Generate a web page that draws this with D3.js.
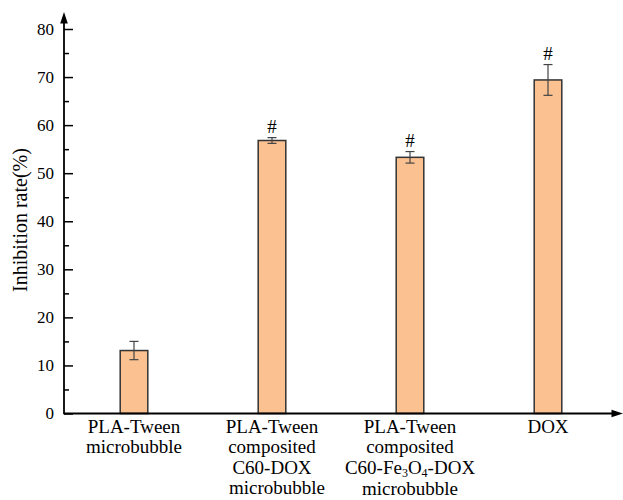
<!DOCTYPE html>
<html>
<head>
<meta charset="utf-8">
<script src="https://cdn.jsdelivr.net/npm/d3@7"></script>
<style>
  html, body { margin: 0; padding: 0; background: #fff; }
  svg { display: block; }
</style>
</head>
<body>
<svg id="chart" width="623" height="500"></svg>
<script>
// ---- data ----
const categories = ["PLA-Tween microbubble", "PLA-Tween composited C60-DOX microbubble", "PLA-Tween composited C60-Fe3O4-DOX microbubble", "DOX"];
const categoryLines = [
  ["PLA-Tween", "microbubble"],
  ["PLA-Tween", "composited", "C60-DOX", "microbubble"],
  ["PLA-Tween", "composited", "C60-Fe_3O_4-DOX", "microbubble"],
  ["DOX"]
];
const values = [13.1, 56.8, 53.3, 69.4];
const errors = [1.9, 0.6, 1.2, 3.2];
const marks = ["", "#", "#", "#"];
const yTicks = [0, 10, 20, 30, 40, 50, 60, 70, 80];
const yMinorTicks = [5, 15, 25, 35, 45, 55, 65, 75];
const yTitle = "Inhibition rate(%)";

const FONT = "'Liberation Serif', 'Times New Roman', Times, serif";

// ---- layout ----
const svg = d3.select("#chart");
const x0 = 64, y0 = 413.5;
const x = d3.scaleBand().domain(categories).range([65, 617]).paddingInner(0.8).paddingOuter(0.4);
const y = d3.scaleLinear().domain([0, 80]).range([y0, 29]);

// bars
svg.append("g").selectAll("rect").data(categories).join("rect")
  .attr("x", d => x(d))
  .attr("y", (d, i) => y(values[i]))
  .attr("width", x.bandwidth())
  .attr("height", (d, i) => y(0) - y(values[i]))
  .attr("fill", "#FBC190")
  .attr("stroke", "#333")
  .attr("stroke-width", 1.5);

// error bars
const eg = svg.append("g").attr("stroke", "#444").attr("stroke-width", 1.2).attr("fill", "none");
categories.forEach((c, i) => {
  const cx = x(c) + x.bandwidth() / 2;
  const top = y(values[i] + errors[i]), bot = y(values[i] - errors[i]);
  eg.append("line").attr("x1", cx).attr("x2", cx).attr("y1", top).attr("y2", bot);
  eg.append("line").attr("x1", cx - 4.5).attr("x2", cx + 4.5).attr("y1", top).attr("y2", top);
  eg.append("line").attr("x1", cx - 4.5).attr("x2", cx + 4.5).attr("y1", bot).attr("y2", bot);
});

// significance marks
svg.append("g").selectAll("text").data(categories).join("text")
  .attr("x", d => x(d) + x.bandwidth() / 2)
  .attr("y", (d, i) => y(values[i] + errors[i]) - 5)
  .attr("text-anchor", "middle")
  .style("font-family", FONT)
  .style("font-size", "19px")
  .text((d, i) => marks[i]);

// y axis (ticks inward)
const yAxis = d3.axisLeft(y).tickValues(yTicks).tickSize(-9).tickPadding(10).tickFormat(d3.format("d"));
const ya = svg.append("g").attr("transform", `translate(${x0},0)`).call(yAxis);
ya.select(".domain").remove();
ya.selectAll(".tick line").attr("stroke", "#000").attr("stroke-width", 1.5);
ya.selectAll(".tick text").style("font-size", "17px").style("font-family", FONT).attr("fill", "#000");
const yMinor = d3.axisLeft(y).tickValues(yMinorTicks).tickSize(-5).tickFormat("");
const ym = svg.append("g").attr("transform", `translate(${x0},0)`).call(yMinor);
ym.select(".domain").remove();
ym.selectAll(".tick line").attr("stroke", "#000").attr("stroke-width", 1.5);

// axis lines with arrows
svg.append("line").attr("x1", x0).attr("x2", x0).attr("y1", y0 + 0.75).attr("y2", 20).attr("stroke", "#000").attr("stroke-width", 1.8);
svg.append("path").attr("d", `M${x0},12 L${x0 - 3.8},23.5 L${x0 + 3.8},23.5 Z`).attr("fill", "#000");
svg.append("line").attr("x1", x0).attr("x2", 614).attr("y1", y0).attr("y2", y0).attr("stroke", "#000").attr("stroke-width", 1.8);
svg.append("path").attr("d", `M623,${y0} L611.5,${y0 - 3.8} L611.5,${y0 + 3.8} Z`).attr("fill", "#000");

// x labels
const xl = svg.append("g");
categories.forEach((c, i) => {
  const cx = x(c) + x.bandwidth() / 2;
  categoryLines[i].forEach((line, j) => {
    const t = xl.append("text")
      .attr("x", cx + (i === 1 && j === 3 ? 5 : 0))
      .attr("y", 432.5 + j * 20.5 + (i === 2 && j === 3 ? 1 : 0))
      .attr("text-anchor", "middle")
      .style("font-family", FONT)
      .style("font-size", "19px");
    const parts = line.split(/(_\d)/).filter(s => s.length);
    let shift = 0;
    parts.forEach(p => {
      if (p.startsWith("_")) {
        t.append("tspan").style("font-size", "12px").attr("dy", 3 - shift).text(p.slice(1));
        shift = 3;
      } else {
        const ts = t.append("tspan").text(p);
        if (shift) { ts.attr("dy", -shift); shift = 0; }
      }
    });
  });
});

// y title
svg.append("text")
  .attr("transform", `translate(27,220) rotate(-90)`)
  .attr("text-anchor", "middle")
  .style("font-family", FONT)
  .style("font-size", "20px")
  .text(yTitle);
</script>
</body>
</html>
